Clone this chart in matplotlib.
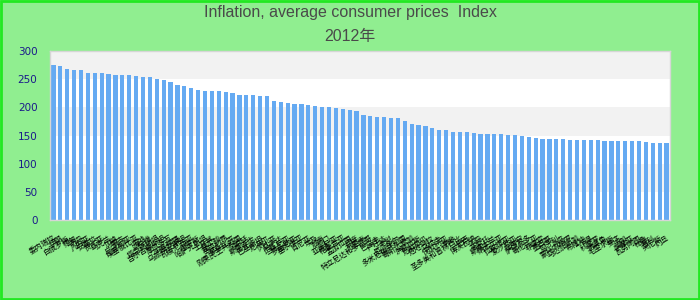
import matplotlib
matplotlib.use('Agg')
import matplotlib.pyplot as plt
from matplotlib.patches import Rectangle

title1 = 'Inflation, average consumer prices  Index'
title2 = '2012年'

countries = ['委内瑞拉', '伊朗', '白俄罗斯', '缅甸', '苏丹', '几内亚', '安哥拉', '赞比亚', '乌克兰', '加纳',
             '蒙古', '尼日利亚', '埃塞俄比亚', '海地', '马拉维', '塔吉克斯坦', '吉尔吉斯斯坦', '摩尔多瓦', '阿塞拜疆', '乌兹别克斯坦',
             '印度尼西亚', '俄罗斯', '哈萨克斯坦', '土耳其', '牙买加', '塞拉利昂', '莫桑比克', '刚果民主共和国', '阿根廷', '斯里兰卡',
             '巴基斯坦', '尼泊尔', '冈比亚', '乌干达', '坦桑尼亚', '罗马尼亚', '塞尔维亚', '肯尼亚', '埃及', '越南',
             '也门', '亚美尼亚', '格鲁吉亚', '孟加拉国', '印度', '苏里南', '特立尼达和多巴哥', '巴拉圭', '卢旺达', '老挝',
             '厄瓜多尔', '多米尼加共和国', '哥斯达黎加', '洪都拉斯', '尼加拉瓜', '危地马拉', '乌拉圭', '保加利亚', '南非', '圣多美和普林西比',
             '巴西', '博茨瓦纳', '不丹', '莱索托', '斯威士兰', '纳米比亚', '拉脱维亚', '爱沙尼亚', '立陶宛', '萨尔瓦多',
             '哥伦比亚', '菲律宾', '墨西哥', '匈牙利', '冰岛', '蒙特内格罗', '马达加斯加', '布隆迪', '乍得', '科摩罗',
             '佛得角', '毛里求斯', '斐济', '汤加', '萨摩亚', '瓦努阿图', '秘鲁', '智利', '突尼斯', '约旦']

values = [275.2, 273.4, 268.0, 266.3, 266.3, 261.0, 261.0, 261.0, 259.2, 257.4,
          257.4, 257.4, 255.6, 253.9, 253.9, 250.3, 248.5, 245.0, 239.7, 237.9,
          234.3, 230.8, 229.0, 229.0, 229.0, 227.2, 225.5, 221.9, 221.9, 221.9,
          220.1, 220.1, 211.3, 209.5, 207.7, 205.9, 205.9, 204.2, 202.4, 200.6,
          200.6, 198.8, 197.0, 195.3, 193.5, 186.4, 184.6, 182.8, 182.8, 181.1,
          181.1, 175.7, 170.4, 168.6, 166.9, 163.3, 159.8, 159.8, 156.2, 156.2,
          156.2, 154.4, 152.7, 152.7, 152.7, 152.7, 150.9, 150.9, 149.1, 147.3,
          145.6, 143.8, 143.8, 143.8, 143.8, 142.0, 142.0, 142.0, 142.0, 142.0,
          140.2, 140.2, 140.2, 140.2, 140.2, 140.2, 138.5, 136.7, 136.7, 136.7]

yticks = [0, 50, 100, 150, 200, 250, 300]

fig = plt.figure(figsize=(7, 3), dpi=100, facecolor='#90ee90')
fig.patches.append(Rectangle((0.001, 0.002), 0.998, 0.996, transform=fig.transFigure,
                             fill=False, edgecolor='#22e822', linewidth=2))
ax = fig.add_axes([50 / 700, 80 / 300, 620 / 700, 169 / 300])
ax.set_facecolor('white')

# alternating bands
for i in range(len(yticks) - 1):
    if i % 2 == 1:
        ax.axhspan(yticks[i], yticks[i + 1], color='#f2f2f2', zorder=0, lw=0)

x = list(range(len(values)))
ax.bar(x, values, width=0.6, color='#65aaf2', zorder=2)

ax.set_xlim(-0.5, len(values) - 0.5)
ax.set_ylim(0, 300)
ax.set_yticks(yticks)
ax.tick_params(axis='y', length=0, pad=9, labelsize=7.5, labelcolor='#1a1a8a')
ax.set_xticks(x)
ax.set_xticklabels(countries, rotation=32, ha='right', rotation_mode='anchor',
                   fontsize=5.3, family=['Noto Sans CJK SC', 'DejaVu Sans'])
ax.tick_params(axis='x', length=0, pad=10)
for s in ax.spines.values():
    s.set_color('#d6d6d6')
    s.set_linewidth(1)

tfont = ['Liberation Sans Narrow', 'Liberation Sans', 'Noto Sans CJK SC']
fig.text(0.5, 1 - 13 / 300, title1, ha='center', va='center', fontsize=11.5,
         color='#4a4a4a', family=tfont)
fig.text(0.5, 1 - 37 / 300, title2, ha='center', va='center', fontsize=11.5,
         color='#4a4a4a', family=tfont)

fig.savefig('out.png', dpi=100, facecolor=fig.get_facecolor())
